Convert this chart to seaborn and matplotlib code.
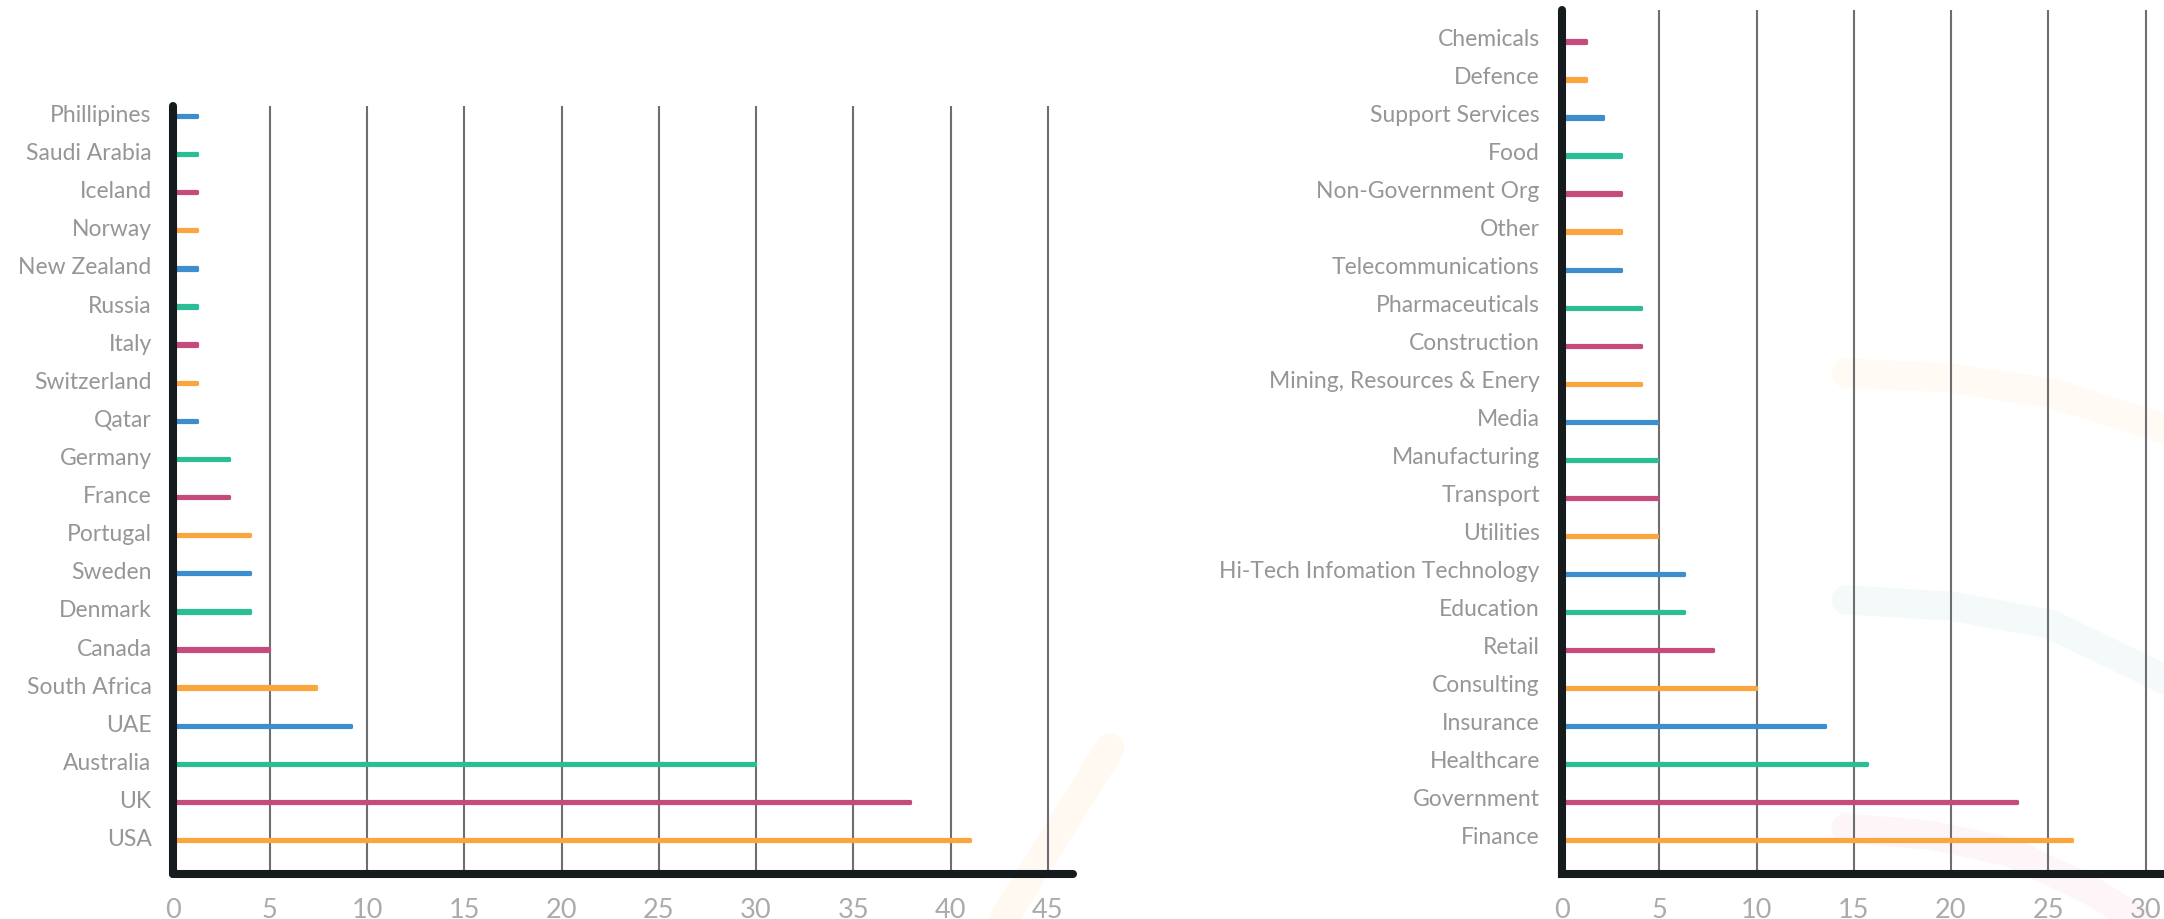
import matplotlib
matplotlib.use("Agg")
import matplotlib.pyplot as plt
from matplotlib.lines import Line2D
from matplotlib.transforms import ScaledTranslation
import seaborn as sns
import pandas as pd

# ---------------- data ----------------
countries = ["Phillipines", "Saudi Arabia", "Iceland", "Norway", "New Zealand",
             "Russia", "Italy", "Switzerland", "Qatar", "Germany", "France",
             "Portugal", "Sweden", "Denmark", "Canada", "South Africa", "UAE",
             "Australia", "UK", "USA"]
country_values = [1.25, 1.25, 1.25, 1.25, 1.25, 1.25, 1.25, 1.25, 1.25, 2.9, 2.9,
                  4.0, 4.0, 4.0, 4.95, 7.4, 9.2, 29.95, 37.9, 41.0]

sectors = ["Chemicals", "Defence", "Support Services", "Food", "Non-Government Org",
           "Other", "Telecommunications", "Pharmaceuticals", "Construction",
           "Mining, Resources & Enery", "Media", "Manufacturing", "Transport",
           "Utilities", "Hi-Tech Infomation Technology", "Education", "Retail",
           "Consulting", "Insurance", "Healthcare", "Government", "Finance"]
sector_values = [1.25, 1.25, 2.1, 3.05, 3.05, 3.05, 3.05, 4.05, 4.05, 4.05, 4.9, 4.9,
                 4.9, 4.9, 6.25, 6.25, 7.75, 9.95, 13.5, 15.7, 23.4, 26.2]

left_ticks = [0, 5, 10, 15, 20, 25, 30, 35, 40, 45]
right_ticks = [0, 5, 10, 15, 20, 25, 30]

# colour cycle counted from the bottom bar upward
cycle = ["#FBA53F", "#C54B7C", "#2BBD96", "#3D8ECE"]

# ---------------- style ----------------
sns.set_style("white")
plt.rcParams["font.family"] = ["Lato", "DejaVu Sans"]

W, H = 2164, 919
fig = plt.figure(figsize=(W / 100, H / 100), dpi=100)
fig.patch.set_facecolor("white")

AX_COL = "#161B1D"
GRID_COL = "#6E6E6E"
LAB_COL = "#969696"
TICK_COL = "#ABABAB"


def fx(px):
    return px / W


def fy(py):
    return 1 - py / H


# faint decorative strokes behind the charts
deco = [
    ([1110, 1000], [748, 925], "#FFF9F2"),
    ([1846, 1950, 2050, 2170], [373, 378, 393, 430], "#FFFAF4"),
    ([1846, 1950, 2050, 2170], [600, 606, 624, 682], "#F4FAFA"),
    ([1846, 1930, 2010, 2090, 2170], [828, 835, 852, 890, 940], "#FDF5F8"),
]
for xs, ys, c in deco:
    fig.add_artist(Line2D([fx(x) for x in xs], [fy(y) for y in ys], color=c,
                          lw=21, solid_capstyle="round", transform=fig.transFigure,
                          zorder=-5))


def draw(ax, cats, vals, ticks, xmax, ylim, label_pad, corner_cap, lift):
    n = len(cats)
    pal = [cycle[(n - 1 - i) % 4] for i in range(n)]
    df = pd.DataFrame({"cat": cats, "val": vals})
    sns.barplot(data=df, x="val", y="cat", hue="cat", palette=pal, order=cats,
                hue_order=cats, legend=False, orient="h", width=0.06, ax=ax,
                linewidth=0, saturation=1)
    for p in ax.patches:
        p.set_edgecolor(p.get_facecolor())
        p.set_linewidth(2.3)
        p.set_joinstyle("round")
        p.set_capstyle("round")
    ax.set_facecolor("none")
    ax.set_xlim(0, xmax)
    ax.set_ylim(*ylim)
    ax.set_xticks(ticks)
    ax.set_xticklabels([str(t) for t in ticks])
    ax.set_xlabel("")
    ax.set_ylabel("")
    ax.grid(axis="x", color=GRID_COL, lw=1.5)
    ax.grid(axis="y", visible=False)
    ax.set_axisbelow(True)
    for s in ["top", "right"]:
        ax.spines[s].set_visible(False)
    ax.spines["left"].set_color(AX_COL)
    ax.spines["bottom"].set_color(AX_COL)
    ax.spines["left"].set_linewidth(5.8)
    ax.spines["bottom"].set_linewidth(5.8)
    ax.spines["left"].set_capstyle("round")
    ax.spines["bottom"].set_capstyle(corner_cap)
    ax.spines["left"].set_zorder(5)
    ax.spines["bottom"].set_zorder(5)
    ax.tick_params(axis="y", length=0, pad=label_pad, labelsize=16.5, labelcolor=LAB_COL)
    ax.tick_params(axis="x", length=0, pad=17, labelsize=19.5, labelcolor=TICK_COL)
    off = ScaledTranslation(0, lift / 100, fig.dpi_scale_trans)
    for t in ax.get_yticklabels():
        t.set_fontweight("normal")
        t.set_transform(t.get_transform() + off)
    for t in ax.get_xticklabels():
        t.set_fontweight("normal")


# left chart
axL = fig.add_axes([fx(172.5), fy(874), fx(46.3 * 19.45), (874 - 106) / H])
draw(axL, countries, country_values, left_ticks, 46.3,
     (19 + 34 / 38.2, -10 / 38.2), 15.0, "round", 2.5)

# right chart (runs past the right edge of the figure)
axR = fig.add_axes([fx(1562), fy(874), fx(32 * 19.45), (874 - 10) / H])
draw(axR, sectors, sector_values, right_ticks, 32,
     (21 + 34 / 38.02, -31.5 / 38.02), 16.0, "projecting", 4.0)

fig.savefig("out.png", dpi=100, facecolor="white")
